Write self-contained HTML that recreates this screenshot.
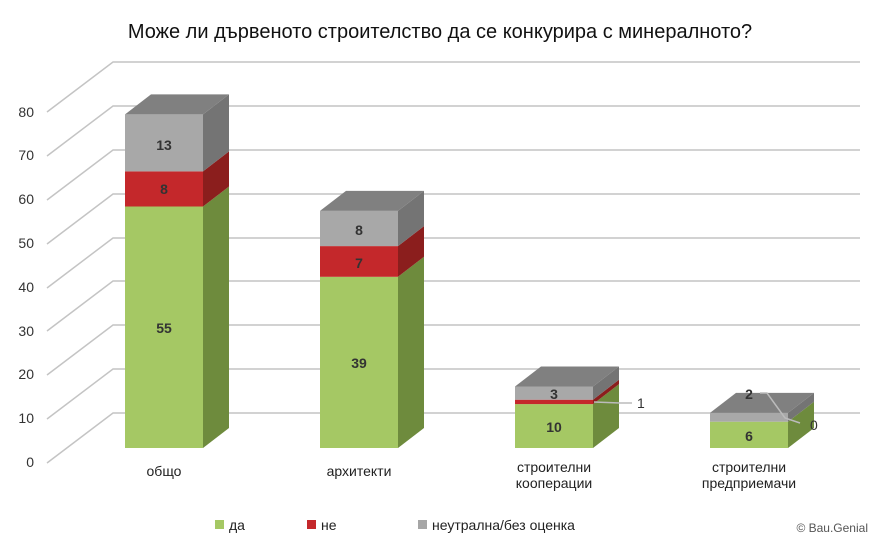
<!DOCTYPE html>
<html><head><meta charset="utf-8"><style>
body{margin:0;background:#fff}
svg text{font-family:"Liberation Sans","DejaVu Sans",sans-serif}
</style></head><body>
<svg width="878" height="542" xmlns="http://www.w3.org/2000/svg">
<text x="440" y="38" text-anchor="middle" font-size="20" fill="#111">Може ли дървеното строителство да се конкурира с минералното?</text>
<g stroke="#c4c4c4" stroke-width="1.5" fill="none">
<polyline points="47,463 113,413 860,413"/>
<polyline points="47,419 113,369 860,369"/>
<polyline points="47,375 113,325 860,325"/>
<polyline points="47,331 113,281 860,281"/>
<polyline points="47,288 113,238 860,238"/>
<polyline points="47,244 113,194 860,194"/>
<polyline points="47,200 113,150 860,150"/>
<polyline points="47,156 113,106 860,106"/>
<polyline points="47,112 113,62 860,62"/>
</g>
<g font-size="14" fill="#333" text-anchor="end">
<text x="34" y="467">0</text><text x="34" y="423">10</text><text x="34" y="379">20</text><text x="34" y="336">30</text><text x="34" y="292">40</text><text x="34" y="248">50</text><text x="34" y="204">60</text><text x="34" y="160">70</text><text x="34" y="117">80</text>
</g>
<!-- bar 1 -->
<rect x="125" y="206.5" width="78" height="241.5" fill="#a5c864"/>
<polygon points="203,448 229,428 229,186.5 203,206.5" fill="#6e8b3d"/>
<rect x="125" y="171.4" width="78" height="35.1" fill="#c4282b"/>
<polygon points="203,206.5 229,186.5 229,151.4 203,171.4" fill="#8b1e1d"/>
<rect x="125" y="114.4" width="78" height="57" fill="#a8a8a8"/>
<polygon points="203,171.4 229,151.4 229,94.4 203,114.4" fill="#747474"/>
<polygon points="125,114.4 151,94.4 229,94.4 203,114.4" fill="#808080"/>
<!-- bar 2 -->
<rect x="320" y="276.8" width="78" height="171.2" fill="#a5c864"/>
<polygon points="398,448 424,428 424,256.8 398,276.8" fill="#6e8b3d"/>
<rect x="320" y="246.1" width="78" height="30.7" fill="#c4282b"/>
<polygon points="398,276.8 424,256.8 424,226.1 398,246.1" fill="#8b1e1d"/>
<rect x="320" y="210.9" width="78" height="35.2" fill="#a8a8a8"/>
<polygon points="398,246.1 424,226.1 424,190.9 398,210.9" fill="#747474"/>
<polygon points="320,210.9 346,190.9 424,190.9 398,210.9" fill="#808080"/>
<!-- bar 3 -->
<rect x="515" y="404.1" width="78" height="43.9" fill="#a5c864"/>
<polygon points="593,448 619,428 619,384.1 593,404.1" fill="#6e8b3d"/>
<rect x="515" y="399.7" width="78" height="4.4" fill="#c4282b"/>
<polygon points="593,404.1 619,384.1 619,379.7 593,399.7" fill="#8b1e1d"/>
<rect x="515" y="386.5" width="78" height="13.2" fill="#a8a8a8"/>
<polygon points="593,399.7 619,379.7 619,366.5 593,386.5" fill="#747474"/>
<polygon points="515,386.5 541,366.5 619,366.5 593,386.5" fill="#808080"/>
<!-- bar 4 -->
<rect x="710" y="421.7" width="78" height="26.3" fill="#a5c864"/>
<polygon points="788,448 814,428 814,401.7 788,421.7" fill="#6e8b3d"/>
<rect x="710" y="412.9" width="78" height="8.8" fill="#a8a8a8"/>
<polygon points="788,421.7 814,401.7 814,392.9 788,412.9" fill="#747474"/>
<polygon points="710,412.9 736,392.9 814,392.9 788,412.9" fill="#808080"/>
<g font-size="14" fill="#222" text-anchor="middle">
<text x="164" y="476">общо</text>
<text x="359" y="476">архитекти</text>
<text x="554" y="472">строителни</text><text x="554" y="488">кооперации</text>
<text x="749" y="472">строителни</text><text x="749" y="488">предприемачи</text>
</g>
<g font-size="14" fill="#222">
<rect x="215" y="520" width="9" height="9" fill="#a5c864"/><text x="229" y="530">да</text>
<rect x="307" y="520" width="9" height="9" fill="#c4282b"/><text x="321" y="530">не</text>
<rect x="418" y="520" width="9" height="9" fill="#a6a6a6"/><text x="432" y="530">неутрална/без оценка</text>
<text x="868" y="532" text-anchor="end" font-size="12" fill="#555">© Bau.Genial</text>
</g>
<g font-size="14" font-weight="bold" fill="#333" text-anchor="middle">
<text x="164" y="333">55</text><text x="164" y="194">8</text><text x="164" y="150">13</text>
<text x="359" y="368">39</text><text x="359" y="268">7</text><text x="359" y="235">8</text>
<text x="554" y="432">10</text><text x="554" y="399">3</text>
<text x="749" y="441">6</text><text x="749" y="399">2</text>
</g>
<g stroke="#bbb" stroke-width="1.5" fill="none">
<polyline points="594,402 620,403 632,403"/>
<polyline points="760,393 767,393 785,418 800,423"/>
</g>
<g font-size="14" fill="#333">
<text x="637" y="408">1</text><text x="810" y="430">0</text>
</g>
</svg>
</body></html>
